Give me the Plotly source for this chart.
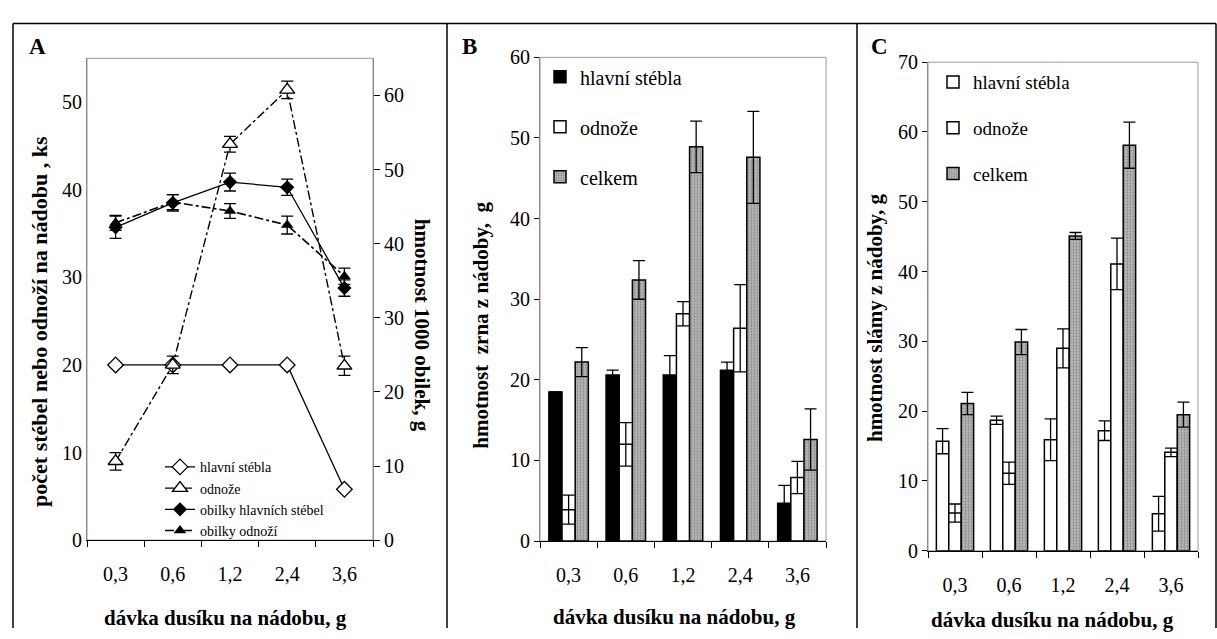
import plotly.graph_objects as go

W, H = 1217, 639
FONT = "Liberation Serif"

categories = ["0,3", "0,6", "1,2", "2,4", "3,6"]

# Panel A - counts (left axis) and 1000-grain weight (right axis)
a_main_stems = [20, 20, 20, 20, 5.8]
a_tillers = [9.0, 20.0, 45.2, 51.4, 19.9]
a_tillers_err = [1.0, 1.0, 0.9, 1.0, 1.1]
a_grain_main = [42.2, 45.5, 48.3, 47.6, 34.0]
a_grain_main_err = [1.5, 1.1, 1.2, 1.1, 1.1]
a_grain_till = [42.8, 45.6, 44.4, 42.5, 35.6]
a_grain_till_err = [1.0, 1.0, 1.0, 1.2, 1.1]

# Panel B - grain weight per pot
b_main = [18.5, 20.6, 20.6, 21.2, 4.7]
b_main_err = [0.0, 0.6, 2.4, 1.0, 2.2]
b_till = [3.9, 12.0, 28.2, 26.4, 7.9]
b_till_err = [1.8, 2.7, 1.5, 5.4, 2.0]
b_total = [22.2, 32.4, 48.9, 47.6, 12.6]
b_total_err = [1.8, 2.4, 3.2, 5.7, 3.8]

# Panel C - straw weight per pot
c_main = [15.7, 18.7, 15.9, 17.2, 5.3]
c_main_err = [1.8, 0.6, 3.0, 1.4, 2.5]
c_till = [5.4, 11.1, 29.0, 41.1, 14.1]
c_till_err = [1.3, 1.6, 2.8, 3.7, 0.6]
c_total = [21.1, 29.9, 45.1, 58.1, 19.5]
c_total_err = [1.6, 1.8, 0.5, 3.3, 1.8]


def px(x):
    return x / W


def py(y):
    return 1 - y / H


def err(arr):
    return dict(type="data", array=arr, visible=True, color="black", thickness=1.3, width=6)


fig = go.Figure()

# ---------- Panel A ----------
fig.add_trace(go.Scatter(
    x=categories, y=a_main_stems, name="hlavní stébla", xaxis="x", yaxis="y",
    mode="lines+markers", line=dict(color="black", width=1.3),
    marker=dict(symbol="diamond", size=12, color="white", line=dict(color="black", width=1.3)),
    legend="legend"))
fig.add_trace(go.Scatter(
    x=categories, y=a_tillers, name="odnože", xaxis="x", yaxis="y",
    mode="lines+markers", line=dict(color="black", width=1.4, dash="dashdot"),
    marker=dict(symbol="triangle-up", size=13, color="white", line=dict(color="black", width=1.4)),
    error_y=err(a_tillers_err), legend="legend"))
fig.add_trace(go.Scatter(
    x=categories, y=a_grain_main, name="obilky hlavních stébel", xaxis="x", yaxis="y2",
    mode="lines+markers", line=dict(color="black", width=1.3),
    marker=dict(symbol="diamond", size=11, color="black"),
    error_y=err(a_grain_main_err), legend="legend"))
fig.add_trace(go.Scatter(
    x=categories, y=a_grain_till, name="obilky odnoží", xaxis="x", yaxis="y2",
    mode="lines+markers", line=dict(color="black", width=1.6, dash="dashdot"),
    marker=dict(symbol="triangle-up", size=11, color="black"),
    error_y=err(a_grain_till_err), legend="legend"))

# ---------- Panel B ----------
gray_pattern = dict(shape=".", fgcolor="#5e5e5e", bgcolor="#bdbdbd", size=3, solidity=0.45)
fig.add_trace(go.Bar(
    x=categories, y=b_main, name="hlavní stébla", xaxis="x2", yaxis="y3",
    marker=dict(color="black", line=dict(color="black", width=1.5)),
    error_y=err(b_main_err), legend="legend2", legendgroup="b1", offsetgroup="b1"))
fig.add_trace(go.Bar(
    x=categories, y=b_till, name="odnože", xaxis="x2", yaxis="y3",
    marker=dict(color="white", line=dict(color="black", width=1.5)),
    error_y=err(b_till_err), legend="legend2", legendgroup="b2", offsetgroup="b2"))
fig.add_trace(go.Bar(
    x=categories, y=b_total, name="celkem", xaxis="x2", yaxis="y3",
    marker=dict(color="#b0b0b0", pattern=gray_pattern, line=dict(color="black", width=1.5)),
    error_y=err(b_total_err), legend="legend2", legendgroup="b3", offsetgroup="b3"))

# ---------- Panel C ----------
fig.add_trace(go.Bar(
    x=categories, y=c_main, name="hlavní stébla", xaxis="x3", yaxis="y4",
    marker=dict(color="white", line=dict(color="black", width=1.5)),
    error_y=err(c_main_err), legend="legend3", legendgroup="c1", offsetgroup="c1"))
fig.add_trace(go.Bar(
    x=categories, y=c_till, name="odnože", xaxis="x3", yaxis="y4",
    marker=dict(color="white", line=dict(color="black", width=1.5)),
    error_y=err(c_till_err), legend="legend3", legendgroup="c2", offsetgroup="c2"))
fig.add_trace(go.Bar(
    x=categories, y=c_total, name="celkem", xaxis="x3", yaxis="y4",
    marker=dict(color="#b0b0b0", pattern=gray_pattern, line=dict(color="black", width=1.5)),
    error_y=err(c_total_err), legend="legend3", legendgroup="c3", offsetgroup="c3"))

tickfont = dict(family=FONT, size=20, color="black")


def xax(domain, anchor):
    return dict(domain=domain, anchor=anchor, type="category", categoryorder="array",
                categoryarray=categories, range=[-0.5, 4.5], tickson="boundaries",
                ticks="outside", ticklen=6, tickcolor="black", showline=True,
                linecolor="black", linewidth=1.2, showgrid=False, zeroline=False,
                tickfont=tickfont, ticklabelstandoff=16, fixedrange=True)


def yax(domain, rng, anchor, ticks="outside", **kw):
    d = dict(domain=domain, anchor=anchor, range=rng, dtick=10, tick0=0, ticks=ticks,
             ticklen=5, tickcolor="black", showline=True, linecolor="#8a8a8a",
             linewidth=1, showgrid=False, zeroline=False, tickfont=tickfont)
    d.update(kw)
    return d


A_x = [px(87), px(373)]
A_y = [py(548), py(49)]
B_x = [px(540), px(826)]
B_y = [py(549), py(48)]
C_x = [px(928), px(1198)]
C_y = [py(559), py(53)]

legend_common = dict(bgcolor="rgba(0,0,0,0)", borderwidth=0, xanchor="left", yanchor="top",
                     itemclick=False, itemdoubleclick=False, itemwidth=30)

fig.update_layout(
    width=W, height=H, autosize=False,
    margin=dict(l=0, r=0, t=0, b=0),
    paper_bgcolor="white", plot_bgcolor="white",
    font=dict(family=FONT, color="black"),
    barmode="group", bargap=0.31, bargroupgap=0,
    xaxis=xax(A_x, "y"),
    yaxis=yax(A_y, [0, 55], "x", ticks=""),
    yaxis2=yax(A_y, [0, 65], "x", overlaying="y", side="right", ticklen=6),
    xaxis2=xax(B_x, "y3"),
    yaxis3=yax(B_y, [0, 60], "x2"),
    xaxis3=xax(C_x, "y4"),
    yaxis4=yax(C_y, [0, 70], "x3"),
    legend=dict(x=px(160), y=py(456), font=dict(family=FONT, size=14),
                tracegroupgap=0, **legend_common),
    legend2=dict(x=px(540), y=py(48), font=dict(family=FONT, size=20),
                 tracegroupgap=21, **legend_common),
    legend3=dict(x=px(933), y=py(54), font=dict(family=FONT, size=19),
                 tracegroupgap=18, **legend_common),
)

# plot-area borders (light gray, as in the original)
shapes = []
for xr, yr in [("x", "y"), ("x2", "y3"), ("x3", "y4")]:
    shapes.append(dict(type="rect", xref=f"{xr} domain", yref=f"{yr} domain",
                       x0=0, x1=1, y0=0, y1=1, line=dict(color="#9a9a9a", width=1),
                       layer="below"))
# outer frame and panel separators
shapes.append(dict(type="line", xref="paper", yref="paper", x0=px(13), x1=px(1216),
                   y0=py(13), y1=py(13), line=dict(color="black", width=1.5)))
for xx in [13, 447, 857, 1216]:
    shapes.append(dict(type="line", xref="paper", yref="paper", x0=px(xx), x1=px(xx),
                       y0=py(13), y1=0, line=dict(color="black", width=1.5)))
fig.update_layout(shapes=shapes)

bold = dict(family=FONT, color="black", weight="bold")
ann = []


def add_text(text, x, y, size, angle=0):
    ann.append(dict(text=text, x=px(x), y=py(y), xref="paper", yref="paper",
                    showarrow=False, textangle=angle, xanchor="center", yanchor="middle",
                    font=dict(size=size, **bold)))


add_text("A", 37, 37, 23)
add_text("B", 470, 37, 23)
add_text("C", 880, 37, 23)
add_text("počet stébel nebo odnoží na nádobu , ks", 40, 322, 22, -90)
add_text("hmotnost 1000 obilek, g", 422, 325, 21, 90)
add_text("hmotnost  zrna z nádoby,  g", 481, 326, 21, -90)
add_text("hmotnost slámy z nádoby, g", 875, 318, 21, -90)
add_text("dávka dusíku na nádobu, g", 225, 629, 21)
add_text("dávka dusíku na nádobu, g", 674, 628, 21)
add_text("dávka dusíku na nádobu, g", 1052, 631, 21)
fig.update_layout(annotations=ann)

fig.write_html("out.html", config={"displayModeBar": False},
               post_script="document.body.style.margin='0';document.body.style.overflow='hidden';")
